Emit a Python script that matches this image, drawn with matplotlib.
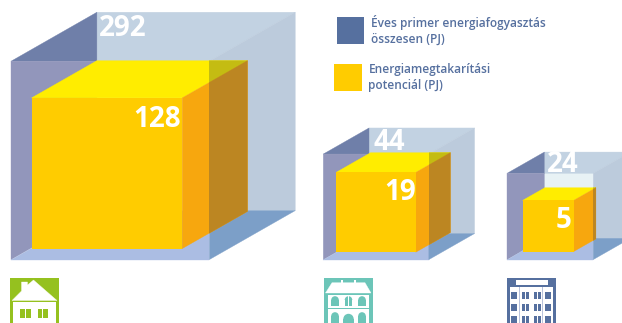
import matplotlib
matplotlib.use("Agg")
import matplotlib.pyplot as plt
import matplotlib.patches as patches
import numpy as np

# energy figures in PJ, one entry per building type
total_pj = [292, 44, 24]
saving_pj = [128, 19, 5]
legend_total = "Éves primer energiafogyasztás\nösszesen (PJ)"
legend_saving = "Energiamegtakarítási\npotenciál (PJ)"

# layout, in pixels
outer_anchor = [(11, 259.6), (323.3, 259.6), (507, 259.6)]
inner_anchor = [(31.5, 248.6), (336, 252.2), (522.6, 251.5)]
total_label_pos = [(123, 28), (389, 142), (563, 164.5)]
saving_label_pos = [(157, 119.5), (400, 192), (564, 220)]
icon_left = [10, 324, 507]

cube_scale = 29.9  # side length per cube root of PJ
depth_x = 0.433
depth_y = 0.247

BLUE = "#56709f"
GREEN = "#95c11f"
TEAL = "#6cc5b8"
YELLOW = "#ffcc00"


def poly(ax, pts, color, z=1, clip=None):
    p = patches.Polygon(pts, closed=True, facecolor=color, edgecolor=color, linewidth=0.25, zorder=z)
    ax.add_patch(p)
    if clip is not None:
        p.set_clip_path(clip)
    return p


def rect(ax, x0, y0, x1, y1, color, z=5):
    ax.add_patch(patches.Rectangle((x0, y0), x1 - x0, y1 - y0, facecolor=color, edgecolor="none", zorder=z))


def outer_box(ax, x, y, value):
    s = cube_scale * np.cbrt(value)
    dx, dy = s * depth_x, s * depth_y
    top = y - s
    right = x + s
    # pale part of the back wall seen through the front face
    rect(ax, x + dx, top, right, y - dy, "#e8f2f5", z=1)
    poly(ax, [(x + dx, top - dy), (right + dx, top - dy), (right, top), (x + dx, top)], "#c2d2e2")
    poly(ax, [(x, top), (x + dx, top - dy), (x + dx, top)], "#6f7fa9")
    poly(ax, [(x, top), (x + dx, top), (x + dx, y - dy), (x, y)], "#9296bb")
    poly(ax, [(x, y), (right, y), (right, y - dy), (x + dx, y - dy)], "#abbde3")
    poly(ax, [(right, top), (right + dx, top - dy), (right + dx, y - dy), (right, y - dy)], "#bccbdc")
    poly(ax, [(right, y - dy), (right + dx, y - dy), (right, y)], "#7c9fc8")
    return right


def inner_box(ax, x, y, value, clip_x):
    s = cube_scale * np.cbrt(value)
    dx, dy = s * depth_x, s * depth_y
    top = y - s
    right = x + s
    top_face = [(x, top), (right, top), (right + dx, top - dy), (x + dx, top - dy)]
    side_face = [(right, top), (right + dx, top - dy), (right + dx, y - dy), (right, y)]
    poly(ax, top_face, "#ffed00", z=2)
    poly(ax, side_face, "#f7a70e", z=2)
    rect(ax, x, top, right, y, YELLOW, z=3)
    # the part sticking out behind the larger box looks darker
    clip = patches.Rectangle((clip_x, 0), 400, 400, transform=ax.transData)
    poly(ax, top_face, "#c4bc12", z=2.5, clip=clip)
    poly(ax, side_face, "#bc8622", z=2.5, clip=clip)


def house_icon(ax, x):
    rect(ax, x, 278, x + 48.5, 323, GREEN)
    poly(ax, [(x + 2, 300.5), (x + 11.5, 291), (x + 11.5, 282), (x + 17.5, 282), (x + 17.5, 285),
              (x + 23.5, 280), (x + 47, 300.5)], "white", z=6)
    rect(ax, x + 3, 301.5, x + 45.5, 323, "white", z=6)
    for wx in [x + 10, x + 27.5]:
        rect(ax, wx, 309, wx + 4.6, 318, GREEN, z=7)
        rect(ax, wx + 5.8, 309, wx + 10.5, 318, GREEN, z=7)


def villa_icon(ax, x):
    rect(ax, x, 278, x + 48.5, 323, TEAL)
    poly(ax, [(x + 1.5, 293), (x + 8, 282.7), (x + 41, 282.7), (x + 47, 293)], "white", z=6)
    rect(ax, x + 17, 280, x + 19, 283, "white", z=6)
    rect(ax, x + 30, 280, x + 32, 283, "white", z=6)
    rect(ax, x + 3.5, 294.5, x + 45, 323, "white", z=6)
    rect(ax, x + 3.5, 307.5, x + 45, 308.8, TEAL, z=7)
    for wx in [x + 11, x + 24.5, x + 38]:
        ax.add_patch(patches.Wedge((wx, 300), 3.8, 180, 360, facecolor=TEAL, edgecolor="none", zorder=7))
        rect(ax, wx - 3.8, 300, wx + 3.8, 306, TEAL, z=7)
        rect(ax, wx - 0.4, 296, wx + 0.4, 306, "white", z=8)
    for wx in [x + 11, x + 38]:
        ax.add_patch(patches.Wedge((wx, 316), 3.8, 180, 360, facecolor=TEAL, edgecolor="none", zorder=7))
        rect(ax, wx - 3.8, 316, wx + 3.8, 323, TEAL, z=7)
        rect(ax, wx - 0.4, 312, wx + 0.4, 323, "white", z=8)
    ax.add_patch(patches.Wedge((x + 24.5, 319), 5.2, 180, 360, facecolor=TEAL, edgecolor="none", zorder=7))
    rect(ax, x + 19.3, 319, x + 29.7, 323, TEAL, z=7)


def block_icon(ax, x):
    rect(ax, x, 278, x + 48.5, 323, BLUE)
    rect(ax, x + 8.5, 280, x + 40.5, 285, "white", z=6)
    rect(ax, x + 2.5, 287, x + 46, 323, "white", z=6)
    for lx in [x + 12.7, x + 24, x + 35.5]:
        rect(ax, lx - 0.4, 287, lx + 0.4, 323, "#b9c3dc", z=7)
    for wx in [x + 7, x + 18.5, x + 30.2, x + 41]:
        for wy in [292, 304, 316]:
            rect(ax, wx - 3.4, wy, wx - 0.4, wy + 7, BLUE, z=7)
            rect(ax, wx + 0.4, wy, wx + 3.4, wy + 7, BLUE, z=7)


def main():
    fig = plt.figure(figsize=(6.22, 3.23), dpi=100)
    ax = fig.add_axes([0, 0, 1, 1])
    ax.set_xlim(0, 622)
    ax.set_ylim(323, 0)
    ax.axis("off")

    for i in range(len(total_pj)):
        right = outer_box(ax, outer_anchor[i][0], outer_anchor[i][1], total_pj[i])
        inner_box(ax, inner_anchor[i][0], inner_anchor[i][1], saving_pj[i], right)
        ax.text(total_label_pos[i][0], total_label_pos[i][1], str(total_pj[i]), color="white", fontsize=20,
                fontweight="bold", family="Open Sans", ha="center", va="center", zorder=10)
        ax.text(saving_label_pos[i][0], saving_label_pos[i][1], str(saving_pj[i]), color="white", fontsize=20,
                fontweight="bold", family="Open Sans", ha="center", va="center", zorder=10)

    house_icon(ax, icon_left[0])
    villa_icon(ax, icon_left[1])
    block_icon(ax, icon_left[2])

    # legend
    rect(ax, 336.5, 16.5, 364, 44, BLUE)
    rect(ax, 334, 63.5, 362, 91, YELLOW)
    ax.text(371, 30.5, legend_total, color=BLUE, fontsize=8.6, family="Open Sans", ha="left", va="center",
            linespacing=1.3, fontweight="semibold")
    ax.text(368.5, 78, legend_saving, color=BLUE, fontsize=8.6, family="Open Sans", ha="left", va="center",
            linespacing=1.3, fontweight="semibold")

    fig.savefig("out.png", dpi=100)


if __name__ == "__main__":
    main()
